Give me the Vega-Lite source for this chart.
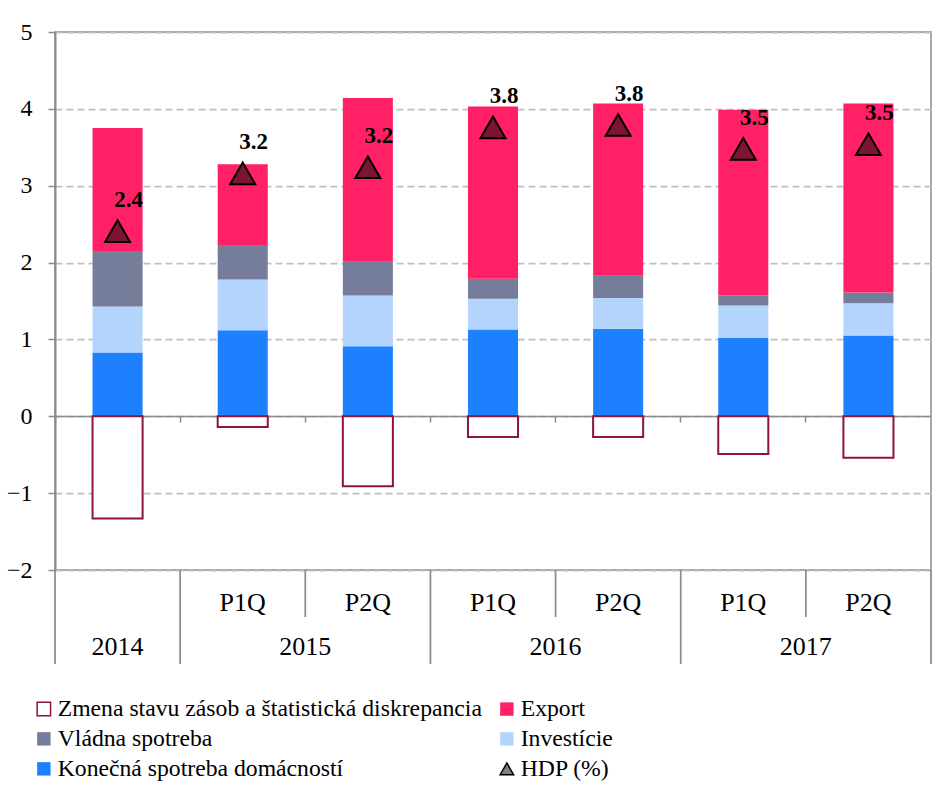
{
  "$schema": "https://vega.github.io/schema/vega-lite/v6.json",
  "padding": {"left": 5, "top": 19, "right": 10, "bottom": 5},
  "bounds": "flush",
  "spacing": 0,
  "config": {
    "font": "Liberation Serif",
    "view": {"stroke": "#8c8c8c", "strokeWidth": 1.5},
    "legend": {
      "orient": "none", "legendX": -23, "legendY": 665, "columns": 2,
      "labelFont": "Liberation Serif", "labelFontSize": 23.7, "labelColor": "#000000", "labelLimit": 700,
      "symbolSize": 180, "symbolStrokeWidth": 1.5, "labelOffset": 2, "columnPadding": 13, "rowPadding": 5, "padding": 0
    }
  },
  "datasets": {
    "bars": [
      {"period": "2014", "series": "Konečná spotreba domácností", "value": 0.83},
      {"period": "2014", "series": "Investície", "value": 0.60},
      {"period": "2014", "series": "Vládna spotreba", "value": 0.72},
      {"period": "2014", "series": "Export", "value": 1.60},
      {"period": "2014", "series": "Zmena stavu zásob a štatistická diskrepancia", "value": -1.33},
      {"period": "2015 P1Q", "series": "Konečná spotreba domácností", "value": 1.12},
      {"period": "2015 P1Q", "series": "Investície", "value": 0.66},
      {"period": "2015 P1Q", "series": "Vládna spotreba", "value": 0.45},
      {"period": "2015 P1Q", "series": "Export", "value": 1.05},
      {"period": "2015 P1Q", "series": "Zmena stavu zásob a štatistická diskrepancia", "value": -0.14},
      {"period": "2015 P2Q", "series": "Konečná spotreba domácností", "value": 0.91},
      {"period": "2015 P2Q", "series": "Investície", "value": 0.66},
      {"period": "2015 P2Q", "series": "Vládna spotreba", "value": 0.44},
      {"period": "2015 P2Q", "series": "Export", "value": 2.13},
      {"period": "2015 P2Q", "series": "Zmena stavu zásob a štatistická diskrepancia", "value": -0.91},
      {"period": "2016 P1Q", "series": "Konečná spotreba domácností", "value": 1.13},
      {"period": "2016 P1Q", "series": "Investície", "value": 0.40},
      {"period": "2016 P1Q", "series": "Vládna spotreba", "value": 0.26},
      {"period": "2016 P1Q", "series": "Export", "value": 2.24},
      {"period": "2016 P1Q", "series": "Zmena stavu zásob a štatistická diskrepancia", "value": -0.27},
      {"period": "2016 P2Q", "series": "Konečná spotreba domácností", "value": 1.14},
      {"period": "2016 P2Q", "series": "Investície", "value": 0.40},
      {"period": "2016 P2Q", "series": "Vládna spotreba", "value": 0.29},
      {"period": "2016 P2Q", "series": "Export", "value": 2.24},
      {"period": "2016 P2Q", "series": "Zmena stavu zásob a štatistická diskrepancia", "value": -0.27},
      {"period": "2017 P1Q", "series": "Konečná spotreba domácností", "value": 1.02},
      {"period": "2017 P1Q", "series": "Investície", "value": 0.42},
      {"period": "2017 P1Q", "series": "Vládna spotreba", "value": 0.13},
      {"period": "2017 P1Q", "series": "Export", "value": 2.42},
      {"period": "2017 P1Q", "series": "Zmena stavu zásob a štatistická diskrepancia", "value": -0.49},
      {"period": "2017 P2Q", "series": "Konečná spotreba domácností", "value": 1.05},
      {"period": "2017 P2Q", "series": "Investície", "value": 0.42},
      {"period": "2017 P2Q", "series": "Vládna spotreba", "value": 0.14},
      {"period": "2017 P2Q", "series": "Export", "value": 2.46},
      {"period": "2017 P2Q", "series": "Zmena stavu zásob a štatistická diskrepancia", "value": -0.54}
    ],
    "hdp": [
      {"period": "2014", "series": "HDP (%)", "value": 2.41},
      {"period": "2015 P1Q", "series": "HDP (%)", "value": 3.16},
      {"period": "2015 P2Q", "series": "HDP (%)", "value": 3.24},
      {"period": "2016 P1Q", "series": "HDP (%)", "value": 3.76},
      {"period": "2016 P2Q", "series": "HDP (%)", "value": 3.79},
      {"period": "2017 P1Q", "series": "HDP (%)", "value": 3.48},
      {"period": "2017 P2Q", "series": "HDP (%)", "value": 3.54}
    ],
    "cats": [
      {"period": "2014", "quarter": "", "year": "2014"},
      {"period": "2015 P1Q", "quarter": "P1Q", "year": "2015"},
      {"period": "2015 P2Q", "quarter": "P2Q", "year": "2015"},
      {"period": "2016 P1Q", "quarter": "P1Q", "year": "2016"},
      {"period": "2016 P2Q", "quarter": "P2Q", "year": "2016"},
      {"period": "2017 P1Q", "quarter": "P1Q", "year": "2017"},
      {"period": "2017 P2Q", "quarter": "P2Q", "year": "2017"}
    ]
  },
  "resolve": {"scale": {"x": "independent", "y": "independent"}},
  "vconcat": [
    {
      "width": 876,
      "height": 538,
      "layer": [
        {
          "data": {"name": "bars"},
          "transform": [
            {"calculate": "indexof(['Konečná spotreba domácností','Investície','Vládna spotreba','Export','Zmena stavu zásob a štatistická diskrepancia'], datum.series)", "as": "stackIdx"}
          ],
          "mark": {"type": "bar", "width": {"band": 0.4}, "strokeWidth": 2},
          "encoding": {
            "x": {
              "field": "period", "type": "nominal", "sort": null,
              "scale": {"domain": ["2014", "2015 P1Q", "2015 P2Q", "2016 P1Q", "2016 P2Q", "2017 P1Q", "2017 P2Q"], "paddingInner": 0, "paddingOuter": 0},
              "axis": {"title": null, "labels": false, "ticks": true, "tickSize": 6, "tickColor": "#8c8c8c", "tickWidth": 1.5, "bandPosition": 0, "offset": -154, "domainColor": "#8c8c8c", "domainWidth": 1.5, "grid": false}
            },
            "y": {
              "field": "value", "type": "quantitative", "stack": "zero",
              "scale": {"domain": [-2, 5], "nice": false},
              "axis": {"values": [-2, -1, 0, 1, 2, 3, 4, 5], "format": "d", "title": null, "labelFont": "Liberation Serif", "labelFontSize": 24, "labelColor": "#000000", "labelPadding": 16, "tickSize": 7, "tickColor": "#8c8c8c", "tickWidth": 1.5, "domainColor": "#8c8c8c", "domainWidth": 2, "grid": true, "gridColor": "#bfbfbf", "gridDash": [7, 4], "gridWidth": 1.75}
            },
            "fill": {
              "field": "series", "type": "nominal",
              "scale": {
                "domain": ["Zmena stavu zásob a štatistická diskrepancia", "Vládna spotreba", "Konečná spotreba domácností", "Export", "Investície", "HDP (%)"],
                "range": ["#ffffff", "#757d9a", "#1c80ff", "#ff2065", "#b3d4fd", "#808080"]
              },
              "legend": {"title": null}
            },
            "stroke": {
              "field": "series", "type": "nominal",
              "scale": {
                "domain": ["Zmena stavu zásob a štatistická diskrepancia", "Vládna spotreba", "Konečná spotreba domácností", "Export", "Investície", "HDP (%)"],
                "range": ["#8c1538", "transparent", "transparent", "transparent", "transparent", "#000000"]
              },
              "legend": {"title": null}
            },
            "order": {"field": "stackIdx", "type": "quantitative"}
          }
        },
        {
          "data": {"name": "hdp"},
          "mark": {"type": "point", "filled": true, "size": 625, "fill": "#7d1433", "stroke": "#000000", "strokeWidth": 2, "opacity": 1},
          "encoding": {
            "x": {"field": "period", "type": "nominal", "sort": null},
            "y": {"field": "value", "type": "quantitative"},
            "shape": {
              "field": "series", "type": "nominal",
              "scale": {
                "domain": ["Zmena stavu zásob a štatistická diskrepancia", "Vládna spotreba", "Konečná spotreba domácností", "Export", "Investície", "HDP (%)"],
                "range": ["square", "square", "square", "square", "square", "triangle-up"]
              },
              "legend": {"title": null}
            }
          }
        },
        {
          "data": {"name": "hdp"},
          "mark": {"type": "text", "dx": 11, "dy": -31, "fontWeight": "bold", "fontSize": 23, "font": "Liberation Serif", "color": "#000000"},
          "encoding": {
            "x": {"field": "period", "type": "nominal", "sort": null},
            "y": {"field": "value", "type": "quantitative"},
            "text": {"field": "value", "type": "quantitative", "format": ".1f"}
          }
        }
      ]
    },
    {
      "width": 876,
      "height": 94,
      "view": {"stroke": null},
      "data": {"name": "cats"},
      "layer": [
        {
          "transform": [{"filter": "datum.quarter !== ''"}],
          "mark": {"type": "text", "fontSize": 26, "font": "Liberation Serif", "color": "#000000"},
          "encoding": {
            "x": {"field": "period", "type": "nominal", "sort": null, "scale": {"domain": ["2014", "2015 P1Q", "2015 P2Q", "2016 P1Q", "2016 P2Q", "2017 P1Q", "2017 P2Q"], "paddingInner": 0, "paddingOuter": 0}, "axis": null},
            "y": {"datum": 1.3, "type": "quantitative", "scale": {"domain": [0, 2], "nice": false}, "axis": null},
            "text": {"field": "quarter"}
          }
        },
        {
          "transform": [{"filter": "datum.quarter === ''"}],
          "mark": {"type": "text", "fontSize": 26, "font": "Liberation Serif", "color": "#000000"},
          "encoding": {
            "x": {"field": "period", "type": "nominal", "sort": null},
            "y": {"datum": 0.36, "type": "quantitative"},
            "text": {"field": "year"}
          }
        },
        {
          "transform": [{"filter": "datum.quarter === 'P1Q'"}],
          "mark": {"type": "text", "fontSize": 26, "font": "Liberation Serif", "color": "#000000"},
          "encoding": {
            "x": {"field": "period", "type": "nominal", "sort": null, "bandPosition": 1},
            "y": {"datum": 0.36, "type": "quantitative"},
            "text": {"field": "year"}
          }
        },
        {
          "transform": [{"filter": "datum.quarter !== 'P2Q'"}],
          "mark": {"type": "rule", "color": "#8c8c8c", "strokeWidth": 1.75},
          "encoding": {
            "x": {"field": "period", "type": "nominal", "sort": null, "bandPosition": 0},
            "y": {"datum": 2, "type": "quantitative"},
            "y2": {"datum": 0}
          }
        },
        {
          "transform": [{"filter": "datum.quarter === 'P2Q'"}],
          "mark": {"type": "rule", "color": "#8c8c8c", "strokeWidth": 1.75},
          "encoding": {
            "x": {"field": "period", "type": "nominal", "sort": null, "bandPosition": 0},
            "y": {"datum": 2, "type": "quantitative"},
            "y2": {"datum": 1}
          }
        },
        {
          "transform": [{"filter": "datum.period === '2017 P2Q'"}],
          "mark": {"type": "rule", "color": "#8c8c8c", "strokeWidth": 1.75},
          "encoding": {
            "x": {"field": "period", "type": "nominal", "sort": null, "bandPosition": 1},
            "y": {"datum": 2, "type": "quantitative"},
            "y2": {"datum": 0}
          }
        }
      ]
    }
  ]
}
